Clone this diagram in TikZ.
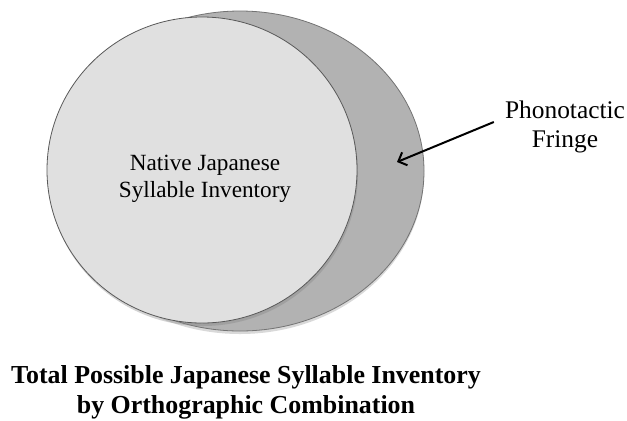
\documentclass[tikz,border=0pt]{standalone}
\usepackage{fontspec}
\setmainfont{Liberation Serif}
\usepackage{tikz}
\usetikzlibrary{shapes.geometric, arrows.meta, shadows}

\begin{document}
\begin{tikzpicture}[x=1bp, y=-1bp]

% Fix the size of the picture
\useasboundingbox (0,0) rectangle (627,420);

% Define styles for the two sets
\tikzstyle{outerset} = [ellipse, draw=black!55, line width=0.8bp, fill=black!30, minimum width=368bp, minimum height=320bp, inner sep=0pt, drop shadow={shadow xshift=0bp, shadow yshift=-3bp, opacity=0.3}]
\tikzstyle{innerset} = [ellipse, draw=black!65, line width=0.8bp, fill=black!12, minimum width=310bp, minimum height=306bp, inner sep=0pt, drop shadow={shadow xshift=1bp, shadow yshift=-3bp, opacity=0.35}]

% Define styles for the texts and the arrow
\tikzstyle{settext} = [align=center, inner sep=0pt, font=\fontsize{23.3}{27}\selectfont]
\tikzstyle{fringetext} = [align=center, inner sep=0pt, font=\fontsize{25.5}{28.5}\selectfont]
\tikzstyle{caption} = [align=center, inner sep=0pt, font=\fontsize{26}{30}\selectfont\bfseries]
\tikzstyle{pointer} = [-{Straight Barb[length=7bp, width=14bp]}, line width=2bp]

\node[outerset] (total) at (240,171) {};
\node[innerset] (native) at (202,170) {};
\node[settext] (nativetext) at (205,179) {Native Japanese\\Syllable Inventory};

\node[fringetext] (fringelabel) at (565,127) {Phonotactic\\Fringe};
\coordinate (tip) at (397,162);
\draw[pointer] ([xshift=-11bp, yshift=5bp]fringelabel.west) -- (tip);

\node[caption] (title) at (246,392) {Total Possible Japanese Syllable Inventory\\by Orthographic Combination};

\end{tikzpicture}
\end{document}
